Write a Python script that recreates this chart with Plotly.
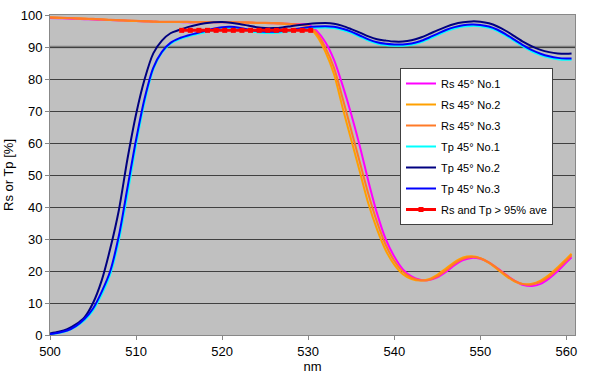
import plotly.graph_objects as go

wavelength = [500, 501, 502, 503, 504, 505, 506, 507, 508, 509,
              510, 511, 512, 513, 514, 515, 516, 517, 518, 519,
              520, 521, 522, 523, 524, 525, 526, 527, 528, 529,
              530, 531, 532, 533, 534, 535, 536, 537, 538, 539,
              540, 541, 542, 543, 544, 545, 546, 547, 548, 549,
              550, 551, 552, 553, 554, 555, 556, 557, 558, 559,
              560, 560.6]

rs_no1 = [99.1, 99.0, 98.9, 98.8, 98.7, 98.6, 98.5, 98.4, 98.3, 98.2,
          98.1, 98.0, 97.9, 97.8, 97.8, 97.8, 97.7, 97.7, 97.7, 97.7,
          97.7, 97.7, 97.6, 97.6, 97.5, 97.5, 97.4, 97.3, 97.2, 97.1,
          97.0, 95.0, 91.5, 86.0, 78.0, 69.0, 59.0, 48.0, 38.0, 30.0,
          24.5, 20.5, 18.3, 17.3, 17.2, 18.0, 19.7, 21.8, 23.4, 24.1,
          23.8, 22.6, 20.8, 18.8, 16.9, 15.6, 15.3, 16.0, 17.7, 20.0,
          22.7, 24.3]

rs_no2 = [99.2, 99.1, 99.0, 98.9, 98.8, 98.7, 98.6, 98.4, 98.3, 98.2,
          98.1, 98.0, 97.9, 97.8, 97.8, 97.8, 97.8, 97.7, 97.7, 97.7,
          97.7, 97.7, 97.6, 97.6, 97.5, 97.5, 97.4, 97.3, 97.1, 96.9,
          96.3, 93.5, 88.5, 81.5, 71.0, 61.0, 51.0, 41.0, 33.0, 26.5,
          22.0, 19.0, 17.5, 17.0, 17.4, 18.8, 20.8, 22.8, 24.2, 24.6,
          24.0, 22.5, 20.5, 18.4, 16.7, 15.9, 16.0, 17.0, 18.8, 21.2,
          23.8, 25.4]

rs_no3 = [99.3, 99.2, 99.1, 99.0, 98.9, 98.8, 98.7, 98.5, 98.4, 98.3,
          98.2, 98.1, 98.0, 97.9, 97.9, 97.9, 97.9, 97.8, 97.8, 97.8,
          97.8, 97.8, 97.7, 97.7, 97.6, 97.6, 97.5, 97.4, 97.2, 97.0,
          96.6, 94.3, 89.8, 83.5, 74.0, 64.0, 54.0, 44.0, 35.3, 28.2,
          23.2, 19.8, 17.9, 17.1, 17.2, 18.3, 20.2, 22.3, 23.8, 24.4,
          24.0, 22.7, 20.8, 18.7, 16.9, 15.9, 15.8, 16.6, 18.3, 20.7,
          23.3, 24.9]

tp_no1 = [0.3, 0.6, 1.3, 2.6, 4.6, 7.7, 12.6, 19.0, 29.5, 44.0,
          59.5, 73.0, 83.0, 88.2, 91.0, 92.4, 93.3, 94.0, 94.6, 95.3,
          95.8, 95.9, 95.6, 95.1, 94.6, 94.4, 94.4, 94.6, 95.0, 95.4,
          95.8, 96.0, 96.1, 95.9, 95.3, 94.4, 93.2, 92.0, 91.1, 90.6,
          90.4, 90.4, 90.7, 91.4, 92.5, 93.7, 94.9, 95.8, 96.4, 96.6,
          96.5, 96.0, 95.0, 93.5, 91.8, 90.1, 88.6, 87.5, 86.7, 86.2,
          86.0, 86.0]

tp_no2 = [0.5, 1.0, 1.8, 3.3, 5.5, 10.0, 17.0, 27.0, 39.0, 55.0,
          69.0, 80.0, 88.0, 92.0, 94.3, 95.3, 96.2, 96.9, 97.4, 97.7,
          97.8, 97.6, 97.2, 96.7, 96.2, 95.9, 95.9, 96.1, 96.5, 96.9,
          97.2, 97.4, 97.5, 97.3, 96.6, 95.6, 94.5, 93.3, 92.4, 92.0,
          91.7, 91.7, 92.1, 92.9, 94.0, 95.2, 96.3, 97.2, 97.7, 98.0,
          97.9, 97.4, 96.4, 95.0, 93.3, 91.6, 90.2, 89.1, 88.4, 88.0,
          87.9, 88.0]

tp_no3 = [0.3, 0.7, 1.4, 2.8, 5.0, 8.3, 13.5, 20.0, 31.0, 46.0,
          61.0, 74.0, 83.5, 88.5, 91.3, 92.7, 93.6, 94.3, 95.0, 95.7,
          96.2, 96.3, 96.0, 95.5, 95.0, 94.8, 94.8, 95.0, 95.4, 95.8,
          96.2, 96.4, 96.5, 96.3, 95.7, 94.8, 93.6, 92.4, 91.5, 91.0,
          90.8, 90.8, 91.1, 91.8, 92.9, 94.1, 95.3, 96.2, 96.8, 97.0,
          96.9, 96.4, 95.4, 93.9, 92.2, 90.5, 89.0, 87.9, 87.1, 86.6,
          86.4, 86.4]

ave_x = [515.3, 516.3, 517.3, 518.3, 519.3, 520.3, 521.3, 522.3,
         523.3, 524.3, 525.3, 526.3, 527.3, 528.3, 529.3, 530.3]
ave_y = [95.2] * 16

spec_level = 90
y_ticks = [0, 10, 20, 30, 40, 50, 60, 70, 80, 90, 100]
x_ticks = [500, 510, 520, 530, 540, 550, 560]

series = [
    ("Rs 45° No.1", rs_no1, "#FF00FF"),
    ("Rs 45° No.2", rs_no2, "#FFA000"),
    ("Rs 45° No.3", rs_no3, "#FF7A28"),
    ("Tp 45° No.1", tp_no1, "#00FFFF"),
    ("Tp 45° No.2", tp_no2, "#000080"),
    ("Tp 45° No.3", tp_no3, "#0000FF"),
]

fig = go.Figure()
for i, (name, vals, col) in enumerate(series):
    fig.add_trace(go.Scatter(
        x=wavelength, y=vals, name=name, mode="lines",
        line=dict(color=col, width=2, shape="spline", smoothing=0.8),
        legendgroup="g%d" % i,
    ))

fig.add_trace(go.Scatter(
    x=ave_x, y=ave_y, name="Rs and Tp > 95% ave", mode="lines+markers",
    line=dict(color="#FF0000", width=3),
    marker=dict(symbol="square", size=5, color="#FF0000"),
    legendgroup="g7",
))

fig.add_shape(type="line", xref="paper", x0=0, x1=1, yref="y",
              y0=spec_level, y1=spec_level,
              line=dict(color="#808080", width=2.5), layer="between")

font_family = "Liberation Sans, Arial, sans-serif"

fig.update_layout(
    width=600, height=376,
    margin=dict(l=50, r=25, t=15, b=41),
    paper_bgcolor="white",
    plot_bgcolor="#C0C0C0",
    font=dict(family=font_family, size=13, color="#000000"),
    showlegend=True,
    legend=dict(
        x=(400 - 50) / 525, y=(335 - 68) / 320, xanchor="left", yanchor="top",
        bgcolor="white", bordercolor="#404040", borderwidth=1,
        font=dict(family=font_family, size=11, color="#000000"),
        tracegroupgap=2,
    ),
    xaxis=dict(
        range=[500, 561], tickmode="array", tickvals=x_ticks,
        showgrid=False, zeroline=False, automargin=False,
        showline=True, linecolor="#888888", linewidth=1, mirror=True,
        ticks="outside", ticklen=4, tickcolor="#888888",
        title=dict(text="nm", font=dict(size=13), standoff=4),
        tickfont=dict(size=13),
    ),
    yaxis=dict(
        range=[0, 100], tickmode="array", tickvals=y_ticks,
        showgrid=True, gridcolor="#404040", gridwidth=1, zeroline=False,
        automargin=False,
        showline=True, linecolor="#888888", linewidth=1, mirror=True,
        ticks="outside", ticklen=4, tickcolor="#888888",
        title=dict(text="Rs or Tp [%]", font=dict(size=13), standoff=4),
        tickfont=dict(size=13),
    ),
)

fig.write_html("out.html",
               config={"displayModeBar": False},
               post_script="document.body.style.margin='0';"
                           "document.body.style.overflow='hidden';")
